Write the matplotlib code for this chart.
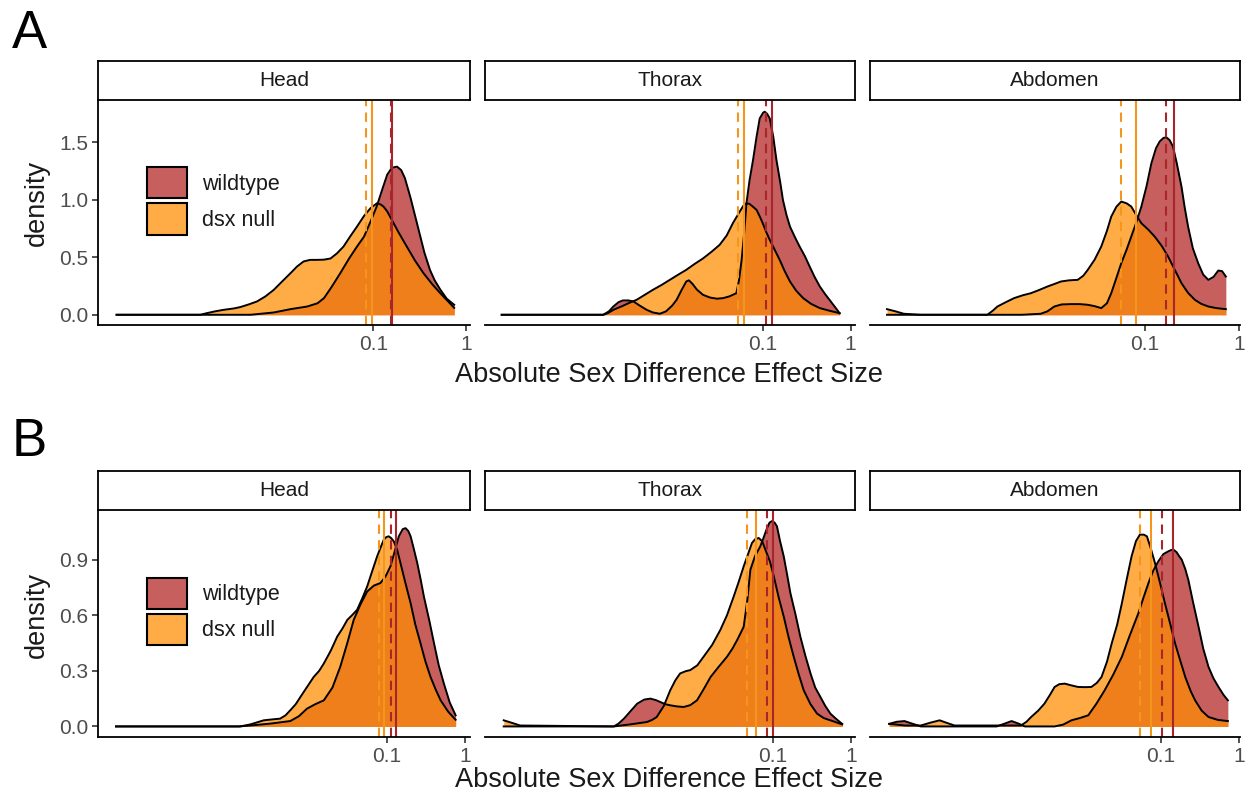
import numpy as np
import matplotlib
matplotlib.use("Agg")
import matplotlib.pyplot as plt
from matplotlib.colors import to_rgb
from matplotlib.patches import Patch
from matplotlib.ticker import FixedLocator, NullLocator

plt.rcParams["font.family"] = ["Liberation Sans", "DejaVu Sans"]

# -------------------------------
# data: log10(effect size) and density
# -------------------------------
panels = ["Head", "Thorax", "Abdomen"]
groups = ["wildtype", "dsx null"]

# --- row A ---
a_head_wt_x = [-3.76, -2.32, -2.07, -1.89, -1.71, -1.60, -1.53, -1.45, -1.355, -1.26, -1.175, -1.10,
               -1.068, -1.02, -0.96, -0.90, -0.85, -0.80, -0.745, -0.70, -0.66, -0.60, -0.55,
               -0.50, -0.45, -0.39, -0.34, -0.28, -0.21, -0.13]
a_head_wt_y = [0, 0, 0.020, 0.049, 0.072, 0.10, 0.145, 0.24, 0.362, 0.49, 0.594, 0.68,
               0.739, 0.83, 0.95, 1.10, 1.22, 1.28, 1.29, 1.26, 1.19, 1.02, 0.86,
               0.70, 0.54, 0.39, 0.30, 0.22, 0.14, 0.087]
a_head_dsx_x = [-3.76, -2.86, -2.79, -2.70, -2.61, -2.50, -2.43, -2.34, -2.25, -2.16, -2.07, -1.98,
                -1.89, -1.82, -1.75, -1.68, -1.605, -1.53, -1.46, -1.39, -1.32, -1.25, -1.175,
                -1.10, -1.03, -0.96, -0.92, -0.89, -0.85, -0.82, -0.73, -0.64, -0.55, -0.46,
                -0.37, -0.28, -0.20, -0.13]
a_head_dsx_y = [0, 0, 0.014, 0.03, 0.043, 0.055, 0.067, 0.09, 0.116, 0.16, 0.217, 0.29,
                0.362, 0.42, 0.464, 0.478, 0.478, 0.48, 0.49, 0.535, 0.594, 0.68, 0.768,
                0.86, 0.928, 0.971, 0.96, 0.942, 0.90, 0.855, 0.72, 0.594, 0.47, 0.362,
                0.27, 0.188, 0.12, 0.06]

a_thorax_wt_x = [-3.97, -2.815, -2.75, -2.70, -2.64, -2.59, -2.53, -2.47, -2.40, -2.32, -2.25, -2.17,
                 -2.10, -2.03, -1.98, -1.92, -1.87, -1.84, -1.80, -1.75, -1.68, -1.60, -1.52,
                 -1.45, -1.38, -1.30, -1.27, -1.24, -1.21, -1.185, -1.15, -1.11, -1.07, -1.034,
                 -0.995, -0.977, -0.95, -0.92, -0.88, -0.844, -0.80, -0.77, -0.73, -0.69, -0.63,
                 -0.58, -0.52, -0.466, -0.41, -0.35, -0.29, -0.24, -0.18, -0.125]
a_thorax_wt_y = [0, 0, 0.03, 0.072, 0.11, 0.125, 0.125, 0.116, 0.08, 0.043, 0.02, 0.009,
                 0.03, 0.08, 0.13, 0.22, 0.29, 0.30, 0.27, 0.22, 0.174, 0.15, 0.14,
                 0.145, 0.16, 0.188, 0.30, 0.478, 0.72, 0.971, 1.17, 1.348, 1.55, 1.71,
                 1.76, 1.768, 1.75, 1.71, 1.55, 1.348, 1.15, 1.0, 0.87, 0.768, 0.67,
                 0.594, 0.51, 0.42, 0.33, 0.246, 0.18, 0.13, 0.07, 0.014]
a_thorax_dsx_x = [-3.97, -2.815, -2.76, -2.70, -2.60, -2.50, -2.435, -2.35, -2.25, -2.15, -2.057,
                  -1.96, -1.87, -1.78, -1.68, -1.58, -1.49, -1.41, -1.34, -1.26, -1.22, -1.185,
                  -1.15, -1.11, -1.07, -1.03, -1.0, -0.96, -0.92, -0.86, -0.807, -0.75, -0.69,
                  -0.62, -0.54, -0.45, -0.35, -0.24, -0.125]
a_thorax_dsx_y = [0, 0, 0.015, 0.043, 0.075, 0.11, 0.13, 0.17, 0.217, 0.26, 0.304,
                  0.35, 0.391, 0.44, 0.49, 0.55, 0.609, 0.69, 0.797, 0.90, 0.95, 0.971,
                  0.965, 0.94, 0.913, 0.85, 0.797, 0.72, 0.652, 0.56, 0.478, 0.38, 0.29,
                  0.21, 0.145, 0.095, 0.058, 0.035, 0.014]

a_abdomen_wt_x = [-3.73, -2.30, -2.10, -2.03, -1.957, -1.88, -1.78, -1.69, -1.603, -1.53, -1.46,
                  -1.40, -1.354, -1.30, -1.248, -1.19, -1.142, -1.09, -1.035, -0.98, -0.929, -0.88,
                  -0.84, -0.80, -0.77, -0.735, -0.70, -0.66, -0.61, -0.575, -0.54, -0.49, -0.433,
                  -0.38, -0.326, -0.27, -0.22, -0.18, -0.14]
a_abdomen_wt_y = [0, 0, 0.009, 0.03, 0.072, 0.09, 0.093, 0.093, 0.087, 0.075, 0.058,
                  0.10, 0.188, 0.32, 0.449, 0.57, 0.681, 0.80, 0.942, 1.12, 1.319, 1.45,
                  1.51, 1.54, 1.545, 1.52, 1.464, 1.32, 1.116, 0.93, 0.768, 0.58, 0.449,
                  0.35, 0.304, 0.33, 0.385, 0.38, 0.333]
a_abdomen_dsx_x = [-3.73, -3.64, -3.553, -3.376, -2.667, -2.61, -2.56, -2.47, -2.383, -2.29, -2.205,
                   -2.12, -2.03, -1.95, -1.886, -1.80, -1.71, -1.65, -1.603, -1.53, -1.46, -1.40,
                   -1.354, -1.30, -1.248, -1.19, -1.142, -1.09, -1.035, -0.96, -0.894, -0.82,
                   -0.752, -0.68, -0.61, -0.54, -0.468, -0.40, -0.326, -0.24, -0.14]
a_abdomen_dsx_y = [0.049, 0.03, 0.009, 0, 0, 0.035, 0.072, 0.11, 0.145, 0.17, 0.188,
                   0.215, 0.246, 0.27, 0.29, 0.30, 0.304, 0.34, 0.391, 0.48, 0.594, 0.73,
                   0.855, 0.94, 0.986, 0.97, 0.942, 0.87, 0.797, 0.74, 0.681, 0.60,
                   0.507, 0.39, 0.275, 0.19, 0.13, 0.095, 0.072, 0.058, 0.049]

# --- row B ---
b_head_wt_x = [-4.47, -2.90, -2.75, -2.50, -2.24, -2.13, -2.026, -1.92, -1.81, -1.70, -1.60, -1.51,
               -1.428, -1.34, -1.256, -1.17, -1.086, -1.02, -0.958, -0.90, -0.851, -0.80, -0.765,
               -0.73, -0.70, -0.66, -0.615, -0.57, -0.53, -0.46, -0.40, -0.34, -0.274, -0.20,
               -0.124]
b_head_wt_y = [0, 0, 0.005, 0.015, 0.029, 0.055, 0.096, 0.12, 0.141, 0.21, 0.322, 0.45,
               0.575, 0.66, 0.728, 0.76, 0.774, 0.81, 0.864, 0.95, 1.026, 1.065, 1.07,
               1.055, 1.026, 0.96, 0.882, 0.79, 0.701, 0.57, 0.448, 0.33, 0.231, 0.13,
               0.06]
b_head_dsx_x = [-4.47, -2.88, -2.75, -2.58, -2.47, -2.37, -2.30, -2.24, -2.17, -2.11, -2.03, -1.94,
                -1.87, -1.81, -1.72, -1.64, -1.57, -1.51, -1.45, -1.385, -1.32, -1.256, -1.19,
                -1.128, -1.08, -1.043, -1.01, -0.98, -0.95, -0.915, -0.87, -0.83, -0.77, -0.70,
                -0.64, -0.573, -0.51, -0.445, -0.38, -0.316, -0.22, -0.124]
b_head_dsx_y = [0, 0, 0.011, 0.033, 0.038, 0.042, 0.06, 0.087, 0.12, 0.159, 0.21, 0.267,
                0.30, 0.340, 0.41, 0.484, 0.53, 0.575, 0.60, 0.629, 0.69, 0.755, 0.84,
                0.918, 0.97, 1.008, 1.022, 1.026, 1.017, 0.999, 0.95, 0.882, 0.78, 0.665,
                0.55, 0.448, 0.35, 0.267, 0.20, 0.141, 0.08, 0.036]

b_thorax_wt_x = [-4.45, -3.04, -2.98, -2.91, -2.82, -2.74, -2.65, -2.57, -2.50, -2.445, -2.38, -2.317,
                 -2.23, -2.145, -2.06, -1.974, -1.89, -1.80, -1.70, -1.59, -1.52, -1.46, -1.42,
                 -1.376, -1.33, -1.29, -1.23, -1.163, -1.12, -1.077, -1.045, -1.013, -0.98, -0.95,
                 -0.91, -0.863, -0.82, -0.778, -0.71, -0.65, -0.585, -0.52, -0.46, -0.393, -0.33,
                 -0.265, -0.19, -0.115]
b_thorax_wt_y = [0, 0, 0.015, 0.042, 0.085, 0.123, 0.145, 0.150, 0.142, 0.132, 0.12, 0.114,
                 0.108, 0.105, 0.115, 0.141, 0.20, 0.267, 0.32, 0.376, 0.42, 0.466, 0.50,
                 0.538, 0.68, 0.846, 0.92, 0.972, 1.02, 1.07, 1.10, 1.108, 1.10, 1.08,
                 1.0, 0.918, 0.82, 0.72, 0.60, 0.484, 0.38, 0.286, 0.21, 0.159, 0.11,
                 0.069, 0.04, 0.014]
b_thorax_dsx_x = [-4.45, -4.35, -4.24, -3.04, -2.83, -2.615, -2.55, -2.49, -2.40, -2.317, -2.25, -2.19,
                  -2.12, -2.06, -1.97, -1.89, -1.78, -1.676, -1.59, -1.504, -1.44, -1.376, -1.32,
                  -1.27, -1.23, -1.184, -1.14, -1.098, -1.04, -0.99, -0.93, -0.863, -0.80, -0.735,
                  -0.67, -0.607, -0.52, -0.436, -0.35, -0.265, -0.115]
b_thorax_dsx_y = [0.033, 0.02, 0.005, 0, 0.011, 0.024, 0.035, 0.051, 0.11, 0.195, 0.25, 0.286,
                  0.298, 0.304, 0.33, 0.376, 0.44, 0.52, 0.60, 0.701, 0.78, 0.864, 0.93,
                  0.99, 1.01, 1.017, 1.0, 0.954, 0.89, 0.81, 0.70, 0.593, 0.48, 0.376,
                  0.28, 0.195, 0.12, 0.069, 0.045, 0.033, 0.011]

b_abdomen_wt_x = [-4.474, -4.38, -4.28, -4.18, -4.07, -3.10, -3.0, -2.91, -2.82, -2.74, -2.36, -2.25,
                  -2.145, -2.04, -1.93, -1.83, -1.72, -1.61, -1.50, -1.40, -1.29, -1.22, -1.16,
                  -1.10, -1.034, -0.97, -0.906, -0.87, -0.84, -0.80, -0.77, -0.735, -0.69, -0.65,
                  -0.59, -0.52, -0.46, -0.393, -0.33, -0.265, -0.20, -0.145]
b_abdomen_wt_y = [0.014, 0.025, 0.029, 0.015, 0, 0, 0.015, 0.029, 0.015, 0, 0, 0.01,
                  0.033, 0.045, 0.06, 0.12, 0.195, 0.28, 0.376, 0.49, 0.61, 0.70, 0.774,
                  0.84, 0.891, 0.93, 0.945, 0.952, 0.954, 0.94, 0.92, 0.90, 0.85, 0.79,
                  0.67, 0.538, 0.42, 0.322, 0.26, 0.213, 0.17, 0.141]
b_abdomen_dsx_x = [-4.474, -4.27, -4.07, -3.95, -3.83, -3.73, -3.64, -2.79, -2.72, -2.66, -2.57, -2.49,
                   -2.42, -2.36, -2.30, -2.23, -2.15, -2.06, -1.97, -1.89, -1.82, -1.76, -1.69,
                   -1.63, -1.56, -1.50, -1.44, -1.376, -1.32, -1.27, -1.22, -1.18, -1.13, -1.077,
                   -1.01, -0.95, -0.88, -0.82, -0.75, -0.69, -0.62, -0.564, -0.48, -0.393, -0.27,
                   -0.145]
b_abdomen_dsx_y = [0.014, 0.005, 0.005, 0.02, 0.033, 0.018, 0.005, 0.005, 0.025, 0.051, 0.085, 0.123,
                   0.17, 0.213, 0.228, 0.231, 0.222, 0.213, 0.212, 0.213, 0.235, 0.267, 0.35,
                   0.448, 0.55, 0.665, 0.79, 0.918, 1.0, 1.035, 1.035, 1.026, 0.96, 0.882,
                   0.77, 0.665, 0.55, 0.448, 0.35, 0.267, 0.19, 0.141, 0.085, 0.051, 0.035,
                   0.029]

# median (dashed) and mean (solid), log10, order: Head, Thorax, Abdomen
a_wt_median = [-0.81, -0.966, -0.77]
a_wt_mean = [-0.80, -0.894, -0.688]
a_dsx_median = [-1.075, -1.28, -1.248]
a_dsx_mean = [-1.014, -1.216, -1.089]
b_wt_median = [-0.949, -1.077, -0.99]
b_wt_mean = [-0.881, -1.005, -0.842]
b_dsx_median = [-1.099, -1.333, -1.27]
b_dsx_mean = [-1.035, -1.214, -1.132]

a_yticks = [0.0, 0.5, 1.0, 1.5]
b_yticks = [0.0, 0.3, 0.6, 0.9]
x_ticks = [0.1, 1]
x_ticklabels = ["0.1", "1"]

# -------------------------------
# styling
# -------------------------------
WT_FILL = "#B22222"
DSX_FILL = "#FF8C00"
WT_LINE = "#A8262B"
DSX_LINE = "#F5961C"
TICK_GREY = "#4D4D4D"
ALPHA = 0.72

W, H = 1248, 799
fig = plt.figure(figsize=(W / 100, H / 100), dpi=100)


def fx(px):
    return px / W


def fy(py):
    return 1 - py / H


panel_x = [(98, 470), (485, 855), (870, 1240)]

rows = [
    dict(top=100, bottom=325, ylim=(-0.089, 1.87), yticks=a_yticks,
         xlims=[(-3.96, 0.04), (-4.16, 0.05), (-3.91, 0.01)],
         curves=[(a_head_wt_x, a_head_wt_y, a_head_dsx_x, a_head_dsx_y),
                 (a_thorax_wt_x, a_thorax_wt_y, a_thorax_dsx_x, a_thorax_dsx_y),
                 (a_abdomen_wt_x, a_abdomen_wt_y, a_abdomen_dsx_x, a_abdomen_dsx_y)],
         lines=(a_wt_median, a_wt_mean, a_dsx_median, a_dsx_mean),
         letter="A", letter_y=48, xlab_y=375, ylab_y=203),
    dict(top=510, bottom=737, ylim=(-0.057, 1.168), yticks=b_yticks,
         xlims=[(-4.70, 0.06), (-4.69, 0.05), (-4.72, 0.01)],
         curves=[(b_head_wt_x, b_head_wt_y, b_head_dsx_x, b_head_dsx_y),
                 (b_thorax_wt_x, b_thorax_wt_y, b_thorax_dsx_x, b_thorax_dsx_y),
                 (b_abdomen_wt_x, b_abdomen_wt_y, b_abdomen_dsx_x, b_abdomen_dsx_y)],
         lines=(b_wt_median, b_wt_mean, b_dsx_median, b_dsx_mean),
         letter="B", letter_y=456, xlab_y=780, ylab_y=615),
]

dash = (0, (4.5, 3))

for row in rows:
    for i, name in enumerate(panels):
        x0, x1 = panel_x[i]
        ax = fig.add_axes([fx(x0), fy(row["bottom"]), (x1 - x0) / W, (row["bottom"] - row["top"]) / H])
        wt_x, wt_y, dsx_x, dsx_y = row["curves"][i]

        for lx, ly, col in [(wt_x, wt_y, WT_FILL), (dsx_x, dsx_y, DSX_FILL)]:
            xv = 10 ** np.array(lx)
            ax.fill_between(xv, 0, ly, color=col, alpha=ALPHA, lw=0)
            ax.plot(xv, ly, color="black", lw=1.4, solid_joinstyle="round")

        wt_med, wt_mean, dsx_med, dsx_mean = row["lines"]
        ax.axvline(10 ** dsx_med[i], color=DSX_LINE, lw=1.5, ls=dash)
        ax.axvline(10 ** dsx_mean[i], color=DSX_LINE, lw=1.5)
        ax.axvline(10 ** wt_med[i], color=WT_LINE, lw=1.5, ls=dash)
        ax.axvline(10 ** wt_mean[i], color=WT_LINE, lw=1.5)

        ax.set_xscale("log")
        xl = row["xlims"][i]
        ax.set_xlim(10 ** xl[0], 10 ** xl[1])
        ax.set_ylim(*row["ylim"])
        ax.xaxis.set_major_locator(FixedLocator(x_ticks))
        ax.xaxis.set_minor_locator(NullLocator())
        ax.set_xticklabels(x_ticklabels)

        for s in ["top", "right"]:
            ax.spines[s].set_visible(False)
        ax.spines["bottom"].set_linewidth(1.3)
        ax.spines["left"].set_linewidth(1.3)
        ax.tick_params(axis="both", length=4, width=1.1, color="#222222",
                       labelcolor=TICK_GREY, labelsize=15, pad=3)

        if i == 0:
            ax.set_yticks(row["yticks"])
            ax.set_yticklabels([f"{v:.1f}" for v in row["yticks"]])
            handles = [Patch(facecolor=(*to_rgb(WT_FILL), ALPHA), edgecolor="black", lw=1.5),
                       Patch(facecolor=(*to_rgb(DSX_FILL), ALPHA), edgecolor="black", lw=1.5)]
            leg = ax.legend(handles, groups, loc="upper left", bbox_to_anchor=(0.132, 0.702),
                            frameon=False, fontsize=15.5, handlelength=1.86, handleheight=1.86,
                            handletextpad=0.7, labelspacing=0.23, borderpad=0, borderaxespad=0)
            for t in leg.get_texts():
                t.set_color("#1A1A1A")
        else:
            ax.spines["left"].set_visible(False)
            ax.set_yticks([])

        # strip
        sax = fig.add_axes([fx(x0), fy(row["top"]), (x1 - x0) / W, 39 / H])
        sax.set_xticks([])
        sax.set_yticks([])
        for s in sax.spines.values():
            s.set_linewidth(1.3)
            s.set_color("black")
        sax.text(0.5, 0.5, name, ha="center", va="center", fontsize=15, color="#1A1A1A",
                 transform=sax.transAxes)

    fig.text(fx(12), fy(row["letter_y"]), row["letter"], fontsize=38, va="baseline", ha="left")
    fig.text(fx(669), fy(row["xlab_y"]), "Absolute Sex Difference Effect Size", fontsize=19.5,
             ha="center", va="center", color="#1A1A1A")
    fig.text(fx(37), fy(row["ylab_y"]), "density", fontsize=19.5, rotation=90,
             ha="center", va="center", color="#1A1A1A")

fig.savefig("out.png", dpi=100)
